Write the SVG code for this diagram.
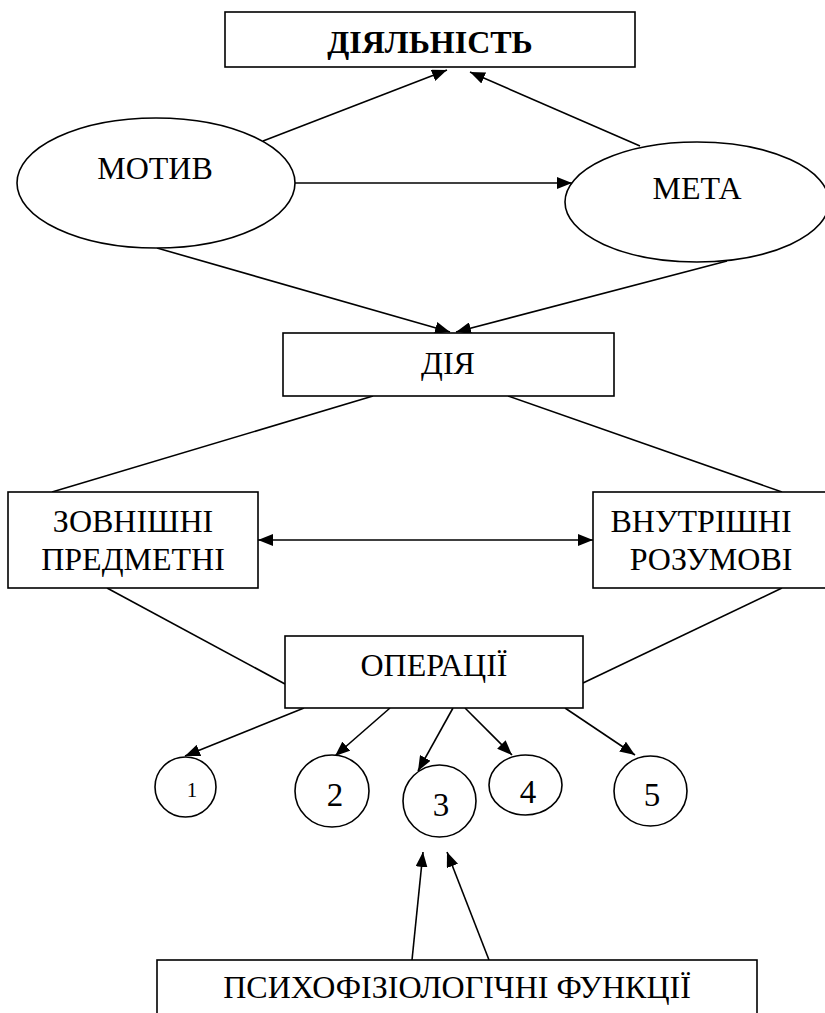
<svg xmlns="http://www.w3.org/2000/svg" width="825" height="1013" viewBox="0 0 825 1013">
  <style>
    .box { fill: #fff; stroke: #000; stroke-width: 1.6; }
    .shape { fill: #fff; stroke: #000; stroke-width: 1.6; }
    .edge { fill: none; stroke: #000; stroke-width: 1.6; }
    .arrow { marker-end: url(#head); }
  </style>
  <defs>
    <marker id="head" viewBox="0 0 15 12" refX="15" refY="6" markerWidth="15" markerHeight="12" markerUnits="userSpaceOnUse" orient="auto-start-reverse">
      <path d="M0,0 L15,6 L0,12 z" fill="#000"/>
    </marker>
  </defs>
  <rect width="825" height="1013" fill="#fff"/>

  <!-- connectors -->
  <g id="connectors">
    <line class="edge arrow" x1="263" y1="141" x2="447" y2="70"/>
    <line class="edge arrow" x1="640" y1="146" x2="470" y2="72"/>
    <line class="edge arrow" x1="295" y1="183" x2="572" y2="183"/>
    <line class="edge arrow" x1="157" y1="248" x2="450" y2="332"/>
    <line class="edge arrow" x1="727" y1="261" x2="456" y2="332"/>
    <line class="edge" x1="373" y1="396" x2="52" y2="492"/>
    <line class="edge" x1="508" y1="396" x2="782" y2="492"/>
    <line class="edge arrow" x1="258" y1="540" x2="593" y2="540" marker-start="url(#head)"/>
    <line class="edge" x1="107" y1="588" x2="285" y2="684"/>
    <line class="edge" x1="782" y1="588" x2="583" y2="683"/>
    <line class="edge arrow" x1="304" y1="708" x2="185" y2="756"/>
    <line class="edge arrow" x1="390" y1="708" x2="335" y2="756"/>
    <line class="edge arrow" x1="453" y1="708" x2="418" y2="771"/>
    <line class="edge arrow" x1="465" y1="708" x2="512" y2="755"/>
    <line class="edge arrow" x1="565" y1="708" x2="635" y2="755"/>
    <line class="edge arrow" x1="412" y1="960" x2="423" y2="852"/>
    <line class="edge arrow" x1="489" y1="960" x2="447" y2="852"/>
  </g>

  <g id="activity">
    <rect class="box" x="225" y="12" width="410" height="55"/>
    <text x="430" y="53" font-family="Liberation Serif" font-size="32" font-weight="bold" text-anchor="middle" fill="#000">ДІЯЛЬНІСТЬ</text>
  </g>

  <g id="motive">
    <ellipse class="shape" cx="156" cy="183" rx="139" ry="65"/>
    <text x="155" y="179" font-family="Liberation Serif" font-size="32" text-anchor="middle" fill="#000">МОТИВ</text>
  </g>

  <g id="goal">
    <ellipse class="shape" cx="697" cy="202" rx="132" ry="60"/>
    <text x="697" y="199" font-family="Liberation Serif" font-size="32" text-anchor="middle" fill="#000">МЕТА</text>
  </g>

  <g id="action">
    <rect class="box" x="283" y="333" width="331" height="63"/>
    <text x="448" y="374" font-family="Liberation Serif" font-size="32" text-anchor="middle" fill="#000">ДІЯ</text>
  </g>

  <g id="external">
    <rect class="box" x="8" y="492" width="250" height="96"/>
    <text x="133" y="532" font-family="Liberation Serif" font-size="32" text-anchor="middle" fill="#000">ЗОВНІШНІ</text>
    <text x="133" y="570" font-family="Liberation Serif" font-size="32" text-anchor="middle" fill="#000">ПРЕДМЕТНІ</text>
  </g>

  <g id="internal">
    <rect class="box" x="593" y="492" width="240" height="96"/>
    <text x="701" y="532" font-family="Liberation Serif" font-size="32" text-anchor="middle" fill="#000">ВНУТРІШНІ</text>
    <text x="711" y="570" font-family="Liberation Serif" font-size="32" text-anchor="middle" fill="#000">РОЗУМОВІ</text>
  </g>

  <g id="operations">
    <rect class="box" x="285" y="636" width="298" height="72"/>
    <text x="434" y="676" font-family="Liberation Serif" font-size="32" text-anchor="middle" fill="#000">ОПЕРАЦІЇ</text>
  </g>

  <g id="op1">
    <ellipse class="shape" cx="185.5" cy="787" rx="30.5" ry="30"/>
    <text x="192" y="797" font-family="Liberation Serif" font-size="21" text-anchor="middle" fill="#000">1</text>
  </g>
  <g id="op2">
    <ellipse class="shape" cx="332" cy="791" rx="37" ry="36"/>
    <text x="335" y="806" font-family="Liberation Serif" font-size="33" text-anchor="middle" fill="#000">2</text>
  </g>
  <g id="op3">
    <ellipse class="shape" cx="439.5" cy="801" rx="36.5" ry="36"/>
    <text x="441" y="816" font-family="Liberation Serif" font-size="33" text-anchor="middle" fill="#000">3</text>
  </g>
  <g id="op4">
    <ellipse class="shape" cx="525.5" cy="785" rx="36.5" ry="30"/>
    <text x="528" y="803" font-family="Liberation Serif" font-size="33" text-anchor="middle" fill="#000">4</text>
  </g>
  <g id="op5">
    <ellipse class="shape" cx="650.5" cy="791" rx="36.5" ry="35"/>
    <text x="652" y="806" font-family="Liberation Serif" font-size="33" text-anchor="middle" fill="#000">5</text>
  </g>

  <g id="psychophysiology">
    <rect class="box" x="157" y="960" width="600" height="70"/>
    <text x="457" y="998" font-family="Liberation Serif" font-size="32" text-anchor="middle" fill="#000">ПСИХОФІЗІОЛОГІЧНІ ФУНКЦІЇ</text>
  </g>
</svg>
